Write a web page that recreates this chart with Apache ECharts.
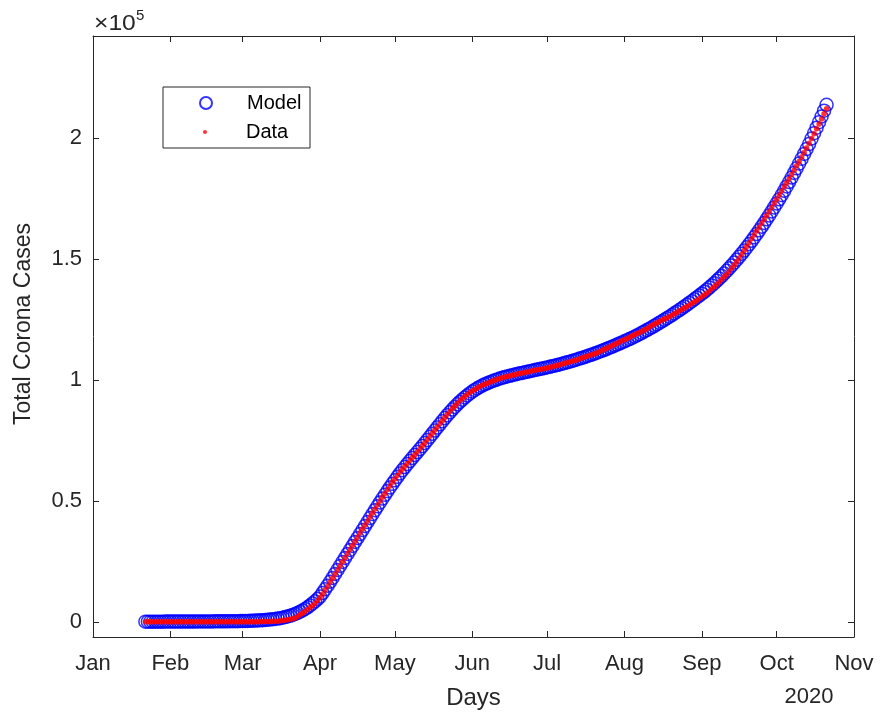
<!DOCTYPE html>
<html>
<head>
<meta charset="utf-8">
<script src="https://cdn.jsdelivr.net/npm/echarts@6/dist/echarts.min.js"></script>
<style>
  html, body { margin: 0; padding: 0; background: #ffffff; }
  #chart { width: 880px; height: 715px; }
</style>
</head>
<body>
<div id="chart"></div>
<script>
// ---------------- data ----------------
const startDate = '2020-01-22';           // first daily point, last is 2020-10-21
const seriesNames = ['Model', 'Data'];

// daily cumulative cases, reported data (Jan 22 .. Oct 21)
const dataCases = [
  // Jan 22-31
  0,0,0,1,1,1,2,2,2,4,
  // Feb
  4,4,4,4,4,5,5,5,7,7,7,7,7,7,7,7,7,7,7,8,8,8,9,10,11,12,13,14,20,
  // Mar
  24,27,30,33,37,49,54,64,77,79,108,117,193,198,252,415,478,657,800,1000,
  1280,1600,2200,2900,3550,4300,5050,5900,6750,7700,8750,
  // Apr
  10000,11500,13100,14700,16400,18000,19700,21400,23100,24800,
  26500,28200,29900,31600,33300,35000,36700,38350,40000,41700,
  43300,45000,46600,48300,49900,51500,53100,54700,56200,57700,
  // May
  59100,60500,61800,63100,64300,65500,66700,67900,69100,70300,
  71500,72800,74100,75400,76700,78000,79300,80600,81900,83200,
  84500,85800,87000,88200,89300,90400,91400,92300,93200,94000,94800,
  // Jun
  95500,96100,96700,97300,97800,98300,98700,99100,99500,99900,
  100300,100600,100900,101200,101500,101700,102000,102200,102500,102700,
  102900,103100,103300,103500,103800,104000,104200,104400,104600,104800,
  // Jul
  105000,105300,105500,105800,106000,106300,106600,106900,107200,107500,
  107800,108100,108400,108800,109100,109500,109800,110200,110500,110900,
  111300,111700,112200,112700,113200,113700,114200,114700,115200,115700,116200,
  // Aug
  116700,117200,117700,118200,118700,119200,119700,120200,120700,121300,
  121900,122500,123100,123700,124200,124700,125200,125700,126200,126800,
  127400,128000,128600,129200,129800,130400,131000,131600,132300,133000,133700,
  // Sep
  134400,135200,136000,136800,137700,138600,139600,140600,141600,142700,
  143800,145000,146300,147600,149000,150500,152000,153600,155200,156800,
  158400,160000,161600,163200,164800,166400,168000,169700,171400,173100,
  // Oct 1-21
  174800,176500,178200,179900,181600,183300,185000,186800,188600,190400,
  192200,194100,196000,197900,199900,201900,203900,205900,208000,210100,212200
];

// daily cumulative cases, fitted model (Jan 22 .. Oct 21)
const modelCases = [
  // Jan 22-31
  40,42,45,47,50,52,55,58,61,64,
  // Feb
  67,70,74,78,82,86,90,95,100,105,110,116,122,128,135,142,149,157,165,173,
  182,191,201,211,222,233,245,258,275,
  // Mar
  300,330,360,400,440,490,540,600,670,750,840,940,1050,1180,1330,1500,1700,1930,2190,2490,
  2830,3220,3660,4150,4700,5310,5990,6740,7560,8450,9410,
  // Apr
  10450,11900,13400,14950,16550,18150,19800,21450,23100,24750,
  26400,28050,29700,31350,33000,34650,36300,37950,39600,41250,
  42900,44550,46150,47750,49350,50950,52500,54050,55550,57050,
  // May
  58500,59950,61350,62700,64000,65280,66540,67780,69000,70220,
  71440,72680,73940,75220,76500,77800,79100,80400,81700,82980,
  84240,85460,86640,87780,88880,89930,90930,91880,92780,93630,94430,
  // Jun
  95200,95900,96550,97150,97700,98200,98650,99100,99500,99900,
  100250,100600,100900,101200,101500,101750,102000,102250,102500,102750,
  102950,103200,103400,103650,103850,104100,104300,104550,104750,105000,
  // Jul
  105200,105450,105700,105950,106200,106450,106750,107000,107300,107600,
  107900,108200,108500,108850,109150,109500,109850,110200,110550,110950,
  111300,111700,112100,112500,112900,113350,113750,114200,114650,115100,115550,
  // Aug
  116000,116450,116920,117410,117910,118430,118960,119510,120070,120640,
  121220,121810,122410,123020,123640,124270,124910,125560,126220,126890,
  127570,128260,128960,129670,130390,131120,131860,132610,133370,134140,134920,
  // Sep
  135700,136510,137350,138220,139120,140050,141010,142000,143020,144070,
  145150,146260,147400,148570,149770,151000,152260,153550,154870,156220,
  157600,159010,160450,161920,163420,164950,166510,168100,169720,171370,
  // Oct 1-21
  173050,174760,176500,178270,180070,181900,183760,185650,187570,189520,
  191500,193510,195550,197620,199900,202100,204350,206650,209000,211400,213850
];

// axis ticks and labels
const monthTicks = ['2020-01-01','2020-02-01','2020-03-01','2020-04-01','2020-05-01','2020-06-01',
                    '2020-07-01','2020-08-01','2020-09-01','2020-10-01','2020-11-01'];
const monthLabels = ['Jan','Feb','Mar','Apr','May','Jun','Jul','Aug','Sep','Oct','Nov'];
const yTicks = [0, 50000, 100000, 150000, 200000];
const yTickLabels = ['0', '0.5', '1', '1.5', '2'];
const xRange = ['2020-01-01', '2020-11-01'];
const yRange = [-6300, 242300];

// ---------------- build ----------------
// x is expressed as days since the start of the x range (a linear date scale)
const DAY = 86400000;
const toTs = s => { const p = s.split('-').map(Number); return Date.UTC(p[0], p[1] - 1, p[2]); };
const origin = toTs(xRange[0]);
const toDay = s => Math.round((toTs(s) - origin) / DAY);
const d0 = toDay(startDate);
const modelPts = modelCases.map((v, i) => [d0 + i, v]);
const dataPts = dataCases.map((v, i) => [d0 + i, v]);
const monthTickDays = monthTicks.map(toDay);

const FONT = '"Liberation Sans", Arial, Helvetica, sans-serif';
const AX = '#262626';

const chart = echarts.init(document.getElementById('chart'), null, { renderer: 'canvas' });

const baseX = {
  type: 'value',
  gridIndex: 0,
  min: toDay(xRange[0]),
  max: toDay(xRange[1]),
  axisLine: { show: true, onZero: false, lineStyle: { color: AX, width: 1 } },
  axisTick: { show: true, inside: true, length: 6, customValues: monthTickDays, lineStyle: { color: AX } },
  minorTick: { show: false },
  splitLine: { show: false }
};
const baseY = {
  type: 'value',
  gridIndex: 0,
  min: yRange[0],
  max: yRange[1],
  axisLine: { show: true, onZero: false, lineStyle: { color: AX, width: 1 } },
  axisTick: { show: true, inside: true, length: 6, customValues: yTicks, lineStyle: { color: AX } },
  minorTick: { show: false },
  splitLine: { show: false }
};

const option = {
  animation: false,
  backgroundColor: '#ffffff',
  textStyle: { fontFamily: FONT },
  grid: { left: 93, top: 36, width: 761, height: 601, containLabel: false },
  xAxis: [
    Object.assign({}, baseX, {
      position: 'bottom',
      axisLabel: {
        show: true, customValues: monthTickDays, margin: 16,
        fontSize: 22, color: AX, fontFamily: FONT,
        formatter: v => { const i = monthTickDays.indexOf(v); return i >= 0 ? monthLabels[i] : ''; }
      },
      name: 'Days', nameLocation: 'middle', nameGap: 49,
      nameTextStyle: { fontSize: 24, color: AX, fontFamily: FONT }
    }),
    Object.assign({}, baseX, { position: 'top', axisLabel: { show: false } })
  ],
  yAxis: [
    Object.assign({}, baseY, {
      position: 'left',
      axisLabel: {
        show: true, customValues: yTicks, margin: 11,
        fontSize: 22, color: AX, fontFamily: FONT,
        formatter: v => { const i = yTicks.indexOf(v); return i >= 0 ? yTickLabels[i] : ''; }
      }
    }),
    Object.assign({}, baseY, { position: 'right', axisLabel: { show: false } })
  ],
  legend: [
    {
      data: [seriesNames[0]], left: 199, top: 93, padding: 0, z: 5,
      itemWidth: 12, itemHeight: 12, itemGap: 0, selectedMode: false, align: 'left',
      textStyle: { fontSize: 20, color: '#000', fontFamily: FONT, padding: [0, 0, 0, 30] }
    },
    {
      data: [seriesNames[1]], left: 203, top: 122, padding: 0, z: 5,
      itemWidth: 4, itemHeight: 4, itemGap: 0, selectedMode: false, align: 'left',
      textStyle: { fontSize: 20, color: '#000', fontFamily: FONT, padding: [0, 0, 0, 34] }
    }
  ],
  graphic: [
    { type: 'rect', z: 3, shape: { x: 163, y: 87, width: 147, height: 61 },
      style: { fill: '#ffffff', stroke: AX, lineWidth: 1 } },
    { type: 'text', x: 24, y: 324, rotation: Math.PI / 2,
      style: { text: 'Total Corona Cases', fontSize: 23, fontFamily: FONT, fill: AX,
               align: 'center', verticalAlign: 'middle' } },
    { type: 'text', x: 94, y: 13, scaleX: 1.12,
      style: { text: '×10', fontSize: 22, fontFamily: FONT, fill: AX, align: 'left', verticalAlign: 'top' } },
    { type: 'text', x: 136, y: 8,
      style: { text: '5', fontSize: 15, fontFamily: FONT, fill: AX, align: 'left', verticalAlign: 'top' } },
    { type: 'text', x: 809, y: 697,
      style: { text: '2020', fontSize: 22, fontFamily: FONT, fill: AX, align: 'center', verticalAlign: 'middle' } }
  ],
  series: [
    {
      name: seriesNames[0], type: 'scatter', xAxisIndex: 0, yAxisIndex: 0,
      symbol: 'circle', symbolSize: 13, z: 2,
      itemStyle: { color: 'rgba(0,0,0,0)', borderColor: '#0000ff', borderWidth: 1.5 },
      data: modelPts
    },
    {
      name: seriesNames[1], type: 'scatter', xAxisIndex: 0, yAxisIndex: 0,
      symbol: 'circle', symbolSize: 5.5, z: 3,
      itemStyle: { color: '#ff0000', borderWidth: 0 },
      data: dataPts
    }
  ]
};

chart.setOption(option);
</script>
</body>
</html>
